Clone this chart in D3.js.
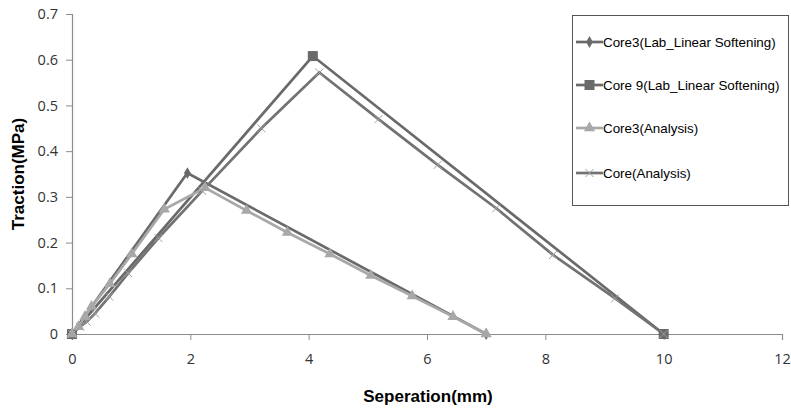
<!DOCTYPE html>
<html>
<head>
<meta charset="utf-8">
<script src="https://cdn.jsdelivr.net/npm/d3@7"></script>
<style>
  body { margin: 0; background: #fff; }
  .tick text { font-family: "Open Sans", sans-serif; font-size: 14.5px; fill: #333; }
  .axisText { font-family: "Liberation Sans", Arial, sans-serif; font-weight: bold; font-size: 17px; fill: #000; }
  .legendText { font-family: "Liberation Sans", Arial, sans-serif; font-size: 13.4px; fill: #000; }
</style>
</head>
<body>
<div id="chart"></div>
<script>
// data
var seriesNames = ["Core3(Lab_Linear Softening)", "Core 9(Lab_Linear Softening)", "Core3(Analysis)", "Core(Analysis)"];

var core3LabX = [0, 1.95, 7];
var core3LabY = [0, 0.352, 0];

var core9LabX = [0, 4.07, 10];
var core9LabY = [0, 0.608, 0];

var core3AnaX = [0, 0.11, 0.22, 0.33, 0.64, 1.01, 1.56, 2.25, 2.95, 3.64, 4.36, 5.05, 5.75, 6.44, 7];
var core3AnaY = [0, 0.016, 0.038, 0.06, 0.11, 0.175, 0.273, 0.32, 0.27, 0.222, 0.175, 0.128, 0.083, 0.038, 0];

var coreAnaX = [0, 0.135, 0.25, 0.39, 0.63, 0.95, 1.46, 2.2, 3.2, 4.18, 5.18, 6.18, 7.17, 8.13, 9.18, 10];
var coreAnaY = [0, 0.016, 0.027, 0.045, 0.082, 0.133, 0.21, 0.313, 0.45, 0.572, 0.47, 0.37, 0.275, 0.173, 0.078, 0];

var xTicks = [0, 2, 4, 6, 8, 10, 12];
var yTicks = [0, 0.1, 0.2, 0.3, 0.4, 0.5, 0.6, 0.7];

var svgWidth = 791;
var svgHeight = 408;

var margin = { top: 14, right: 9, bottom: 74, left: 72 };
var width = 782 - margin.left;
var height = 334 - margin.top;

var svg = d3.select("#chart")
  .append("svg")
  .attr("width", svgWidth)
  .attr("height", svgHeight);

var chartGroup = svg.append("g")
  .attr("transform", `translate(${margin.left}, ${margin.top})`);

var xLinearScale = d3.scaleLinear().domain([0, 12]).range([0, width]);
var yLinearScale = d3.scaleLinear().domain([0, 0.7]).range([height, 0]);

var bottomAxis = d3.axisBottom(xLinearScale).tickValues(xTicks).tickSize(6).tickPadding(14).tickFormat(d3.format("d"));
var leftAxis = d3.axisLeft(yLinearScale).tickValues(yTicks).tickSize(6).tickPadding(8).tickFormat(d => d === 0 ? "0" : d3.format(".1f")(d));

var xAxisG = chartGroup.append("g")
  .attr("transform", `translate(0, ${height})`)
  .call(bottomAxis);
var yAxisG = chartGroup.append("g").call(leftAxis);

[xAxisG, yAxisG].forEach(function(g) {
  g.select(".domain").attr("stroke", "#8c8c8c").attr("stroke-width", 1.2);
  g.selectAll(".tick line").attr("stroke", "#8c8c8c");
});

var series = [
  { name: seriesNames[0], xs: core3LabX, ys: core3LabY, color: "#6a6a6a", marker: "diamond" },
  { name: seriesNames[1], xs: core9LabX, ys: core9LabY, color: "#6a6a6a", marker: "square" },
  { name: seriesNames[2], xs: core3AnaX, ys: core3AnaY, color: "#a8a8a8", marker: "triangle" },
  { name: seriesNames[3], xs: coreAnaX, ys: coreAnaY, color: "#727272", marker: "cross" }
];

var line = d3.line()
  .x(d => xLinearScale(d[0]))
  .y(d => yLinearScale(d[1]));

function drawMarker(g, type, color) {
  if (type === "diamond") {
    g.append("path").attr("d", d3.symbol(d3.symbolDiamond, 40)()).attr("fill", color);
  } else if (type === "square") {
    g.append("rect").attr("x", -5).attr("y", -5).attr("width", 10).attr("height", 10).attr("fill", color);
  } else if (type === "triangle") {
    g.append("path").attr("d", d3.symbol(d3.symbolTriangle, 55)()).attr("fill", color);
  } else {
    g.append("path").attr("d", "M-4,-4L4,4M-4,4L4,-4").attr("stroke", "#a0a0a0").attr("stroke-width", 1);
  }
}

series.forEach(function(s) {
  var pts = s.xs.map((x, i) => [x, s.ys[i]]);
  chartGroup.append("path")
    .datum(pts)
    .attr("d", line)
    .attr("fill", "none")
    .attr("stroke", s.color)
    .attr("stroke-width", 2.7);
});

series.forEach(function(s) {
  var pts = s.xs.map((x, i) => [x, s.ys[i]]);
  pts.forEach(function(p) {
    var g = chartGroup.append("g")
      .attr("transform", `translate(${xLinearScale(p[0])}, ${yLinearScale(p[1])})`);
    drawMarker(g, s.marker, s.color);
  });
});

// legend
var legend = svg.append("g");
legend.append("rect")
  .attr("x", 572.5).attr("y", 15.5)
  .attr("width", 216).attr("height", 190)
  .attr("fill", "#fff").attr("stroke", "#555").attr("stroke-width", 1);

var legendY = [42, 85, 128, 173];
series.forEach(function(s, i) {
  var lg = legend.append("g");
  lg.append("line")
    .attr("x1", 576).attr("x2", 603)
    .attr("y1", legendY[i]).attr("y2", legendY[i])
    .attr("stroke", s.color).attr("stroke-width", 2.7);
  var mg = lg.append("g").attr("transform", `translate(589.5, ${legendY[i]})`);
  drawMarker(mg, s.marker, s.color);
  lg.append("text")
    .attr("class", "legendText")
    .attr("x", 603).attr("y", legendY[i] + 5)
    .text(s.name);
});

// axes labels
svg.append("text")
  .attr("class", "axisText")
  .attr("text-anchor", "middle")
  .attr("transform", "translate(24, 174) rotate(-90)")
  .text("Traction(MPa)");

svg.append("text")
  .attr("class", "axisText")
  .attr("text-anchor", "middle")
  .attr("x", 428).attr("y", 402)
  .text("Seperation(mm)");
</script>
</body>
</html>
